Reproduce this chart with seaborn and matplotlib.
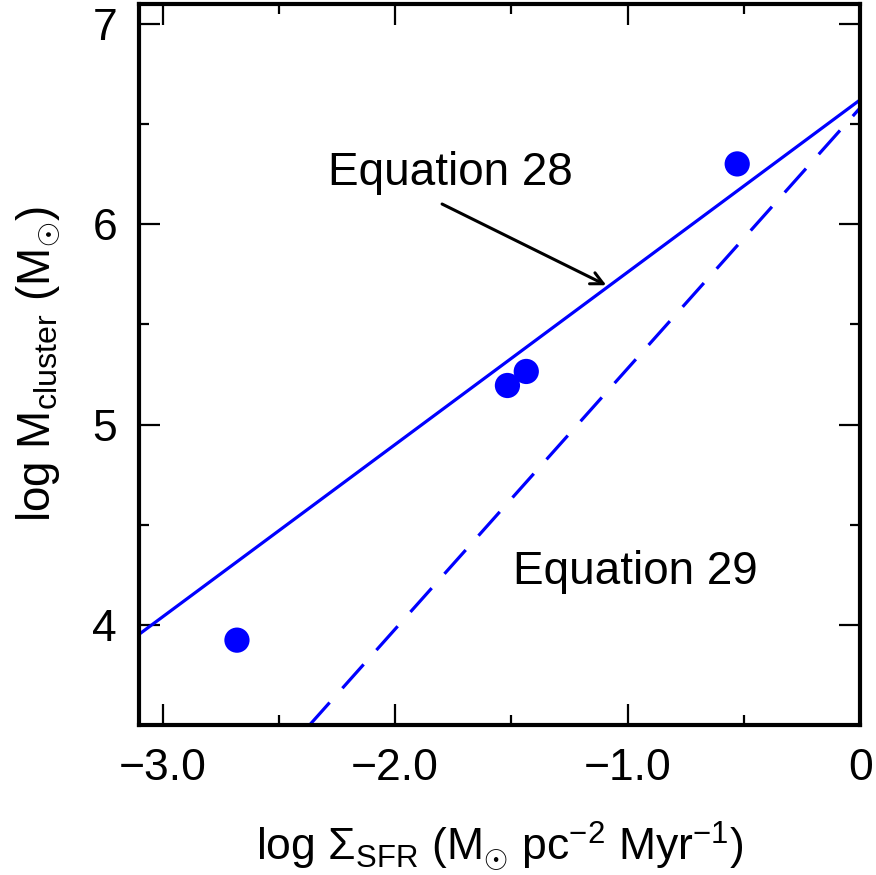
import matplotlib
matplotlib.use("Agg")
import matplotlib.pyplot as plt
import pandas as pd
import seaborn as sns
from matplotlib.ticker import MultipleLocator

# Data
cluster_x = [-2.68, -1.517, -1.436, -0.529]
cluster_y = [3.925, 5.195, 5.265, 6.30]

# Equation 28 (solid) and Equation 29 (dashed), straight lines by end points
eq28_x = [-3.1, 0.0]
eq28_y = [3.955, 6.62]
eq29_x = [-2.373, 0.0]
eq29_y = [3.495, 6.58]

x_ticks = [-3.0, -2.0, -1.0, 0.0]
x_ticklabels = ["\u22123.0", "\u22122.0", "\u22121.0", "0"]
y_ticks = [4, 5, 6, 7]

sns.set_style("ticks")
plt.rcParams["font.family"] = ["Liberation Sans", "DejaVu Sans"]
plt.rcParams["mathtext.fontset"] = "custom"
plt.rcParams["mathtext.rm"] = "Liberation Sans"
plt.rcParams["mathtext.it"] = "Liberation Sans"
plt.rcParams["mathtext.bf"] = "Liberation Sans:bold"
plt.rcParams["text.color"] = "black"
plt.rcParams["axes.labelcolor"] = "black"

fig = plt.figure(figsize=(8.76, 8.75), dpi=100)
ax = fig.add_axes([0.159, 0.171, 0.823, 0.825])

df_pts = pd.DataFrame({"x": cluster_x, "y": cluster_y})
sns.lineplot(x=eq28_x, y=eq28_y, ax=ax, color="#0000ff", linewidth=2.3)
sns.lineplot(x=eq29_x, y=eq29_y, ax=ax, color="#0000ff", linewidth=2.3,
             dashes=False).lines[-1].set_dashes((10, 6))
sns.scatterplot(data=df_pts, x="x", y="y", ax=ax, color="#0000ff", s=330,
                edgecolor="none", zorder=5)

ax.set_xlim(-3.1, 0.0)
ax.set_ylim(3.5, 7.1)
ax.set_xticks(x_ticks)
ax.set_xticklabels(x_ticklabels)
ax.set_yticks(y_ticks)
ax.xaxis.set_minor_locator(MultipleLocator(0.5))
ax.yaxis.set_minor_locator(MultipleLocator(0.5))
ax.tick_params(which="both", direction="in", top=True, right=True,
               colors="black", width=1.6)
ax.tick_params(which="major", length=15, labelsize=32)
ax.tick_params(which="minor", length=7.5)
ax.tick_params(axis="x", which="major", pad=16)
ax.tick_params(axis="y", which="major", pad=16)
for sp in ax.spines.values():
    sp.set_linewidth(3)
    sp.set_color("black")

ax.set_xlabel(r"log $\Sigma_{\rm SFR}$ (M$_{\odot}$ pc$^{-2}$ Myr$^{-1}$)",
              fontsize=32, labelpad=22, color="black")
ax.set_ylabel(r"log M$_{\rm cluster}$ (M$_{\odot}$)", fontsize=33,
              labelpad=22, color="black")

ax.text(-1.762, 6.195, "Equation 28", fontsize=33, ha="center",
        va="baseline", color="black")
ax.text(-0.967, 4.205, "Equation 29", fontsize=33, ha="center",
        va="baseline", color="black")
ax.annotate("", xy=(-1.092, 5.695), xytext=(-1.798, 6.10),
            arrowprops=dict(arrowstyle="->", color="black", lw=2.2,
                            mutation_scale=22, shrinkA=0, shrinkB=0))

fig.savefig("out.png", dpi=100)
